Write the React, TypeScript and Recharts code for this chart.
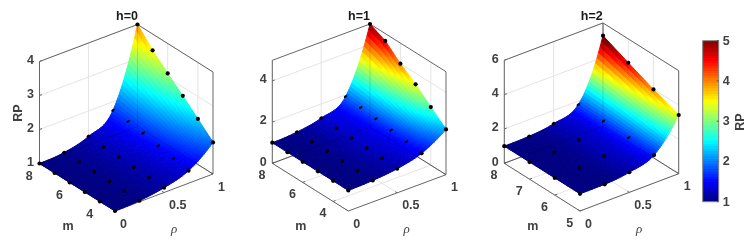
import React from "react";
import { ScatterChart, Scatter, XAxis, YAxis, BarChart, Bar } from "recharts";

const FONT = "'Liberation Sans', Arial, sans-serif";
const TICK_COLOR = "#404040";
const BOX_COLOR = "#666666";
const GRID_COLOR = "#e4e4e4";

const rhoValues = [0, 0.25, 0.5, 0.75, 1];
const rhoTicks = [0, 0.5, 1];
const mValuesH0 = [3, 4, 5, 6, 7, 8];
const mValuesH1 = [3, 4, 5, 6, 7, 8];
const mValuesH2 = [5, 6, 7, 8];
const mTicksH0 = [4, 6, 8];
const mTicksH1 = [4, 6, 8];
const mTicksH2 = [5, 6, 7, 8];
const zTicksH0 = [1, 2, 3, 4];
const zTicksH1 = [0, 2, 4];
const zTicksH2 = [0, 2, 4, 6];
// RP per rho (rows) and m (columns)
const rpH0 = [
  [1, 1, 1, 1, 1, 1],
  [1.03, 1.03, 1.04, 1.04, 1.05, 1.05],
  [1.14, 1.16, 1.18, 1.2, 1.22, 1.25],
  [1.37, 1.45, 1.54, 1.64, 1.7, 1.75],
  [1.93, 2.34, 2.74, 3.12, 3.52, 4.0],
];
const rpH1 = [
  [1, 1, 1, 1, 1, 1],
  [1.04, 1.05, 1.05, 1.06, 1.06, 1.07],
  [1.17, 1.22, 1.25, 1.27, 1.29, 1.31],
  [1.48, 1.58, 1.68, 1.77, 1.85, 1.92],
  [2.2, 2.82, 3.46, 4.0, 4.64, 5.0],
];
const rpH2 = [
  [1, 1, 1, 1],
  [1.01, 1.02, 1.02, 1.03],
  [1.17, 1.19, 1.2, 1.22],
  [1.63, 1.72, 1.76, 1.79],
  [3.42, 3.98, 4.61, 5.26],
];
const colorbarTicks = [1, 2, 3, 4, 5];
const colorbarData = [{ name: "RP", range: [1, 5] }];

const clamp01 = (v: number) => Math.max(0, Math.min(1, v));
const jet = (t: number) => {
  const c = (o: number) => Math.round(255 * clamp01(1.5 - Math.abs(4 * t - o)));
  return `rgb(${c(3)},${c(2)},${c(1)})`;
};
const LEVELS = 64;
const colorOf = (z: number) => jet(clamp01((z - 1) / 4));

type View = {
  title: string;
  titleX: number;
  mLabelX: number;
  rhoLabelX: number;
  left: number;
  width: number;
  ox: number;
  oy: number;
  rx: number;
  ry: number;
  mx: number;
  my: number;
  zs: number;
  zMin: number;
  zMax: number;
  zTicks: number[];
  mValues: number[];
  mTicks: number[];
  rp: number[][];
  zLabel?: boolean;
};

const views: View[] = [
  { title: "h=0", titleX: 127, mLabelX: 68, rhoLabelX: 174, left: 0, width: 250, ox: 115, oy: 211, rx: 98, ry: -37, mx: -75.5, my: -47.5, zs: 34, zMin: 1, zMax: 4, zTicks: zTicksH0, mValues: mValuesH0, mTicks: mTicksH0, rp: rpH0, zLabel: true },
  { title: "h=1", titleX: 359, mLabelX: 300.7, rhoLabelX: 406.7, left: 240, width: 225, ox: 348.3, oy: 211, rx: 97.7, ry: -36.3, mx: -76, my: -47.7, zs: 20.6, zMin: 0, zMax: 5, zTicks: zTicksH1, mValues: mValuesH1, mTicks: mTicksH1, rp: rpH1 },
  { title: "h=2", titleX: 591.7, mLabelX: 532.7, rhoLabelX: 639, left: 470, width: 225, ox: 580, oy: 211, rx: 98.7, ry: -37.3, mx: -75.7, my: -47.7, zs: 17.17, zMin: 0, zMax: 6, zTicks: zTicksH2, mValues: mValuesH2, mTicks: mTicksH2, rp: rpH2 },
];

// screen position in page pixels of a (rho, m, z) location
const px = (v: View, rho: number, m: number, z: number) => {
  const n = (m - v.mValues[0]) / (v.mValues[v.mValues.length - 1] - v.mValues[0]);
  return { X: v.ox + rho * v.rx + n * v.mx, Y: v.oy + rho * v.ry + n * v.my - (z - v.zMin) * v.zs };
};
// the same position in the chart's axis units (x: page px, y: RP along the left box edge)
const pt = (v: View, rho: number, m: number, z: number) => {
  const p = px(v, rho, m, z);
  return { x: p.X, y: v.zMin + (v.oy + v.my - p.Y) / v.zs };
};

// smooth shading of the surface between the read points: cubic along rho, straight along m
const surfaceZ = (v: View, ri: number, f: number, col: number) => {
  const col0 = v.rp.map((row) => row[col]);
  const h = 0.25;
  const d = col0.slice(1).map((z, i) => (z - col0[i]) / h);
  const s: number[] = [0];
  for (let i = 1; i < 4; i++) s[i] = Math.min((d[i - 1] + d[i]) / 2, 3 * Math.min(d[i - 1], d[i]));
  s[4] = 2 * d[3] - s[3];
  if (ri >= 4) return col0[4];
  const a = col0[ri], b = col0[ri + 1];
  const f2 = f * f, f3 = f2 * f;
  return (2 * f3 - 3 * f2 + 1) * a + (f3 - 2 * f2 + f) * h * s[ri] + (-2 * f3 + 3 * f2) * b + (f3 - f2) * h * s[ri + 1];
};

const CellShape = (props: any, v: View) => {
  const { cx, cy, payload } = props;
  const { ri, mi } = payload;
  const nr = ri >= 2 ? 16 : 6;
  const nm = v.mValues.length > 4 ? 8 : 12;
  const anchor = px(v, rhoValues[ri], v.mValues[mi], v.rp[ri][mi]);
  const polys: React.ReactNode[] = [];
  const at = (a: number, b: number) => {
    const zl = surfaceZ(v, ri, a / nr, mi);
    const zr = surfaceZ(v, ri, a / nr, mi + 1);
    const z = zl + ((zr - zl) * b) / nm;
    const rho = rhoValues[ri] + ((rhoValues[ri + 1] - rhoValues[ri]) * a) / nr;
    const m = v.mValues[mi] + ((v.mValues[mi + 1] - v.mValues[mi]) * b) / nm;
    const p = px(v, rho, m, z);
    return { X: cx + p.X - anchor.X, Y: cy + p.Y - anchor.Y, z };
  };
  for (let a = nr - 1; a >= 0; a--) {
    for (let b = nm - 1; b >= 0; b--) {
      const c = [at(a, b), at(a + 1, b), at(a + 1, b + 1), at(a, b + 1)];
      const col = colorOf((c[0].z + c[1].z + c[2].z + c[3].z) / 4);
      polys.push(
        <polygon key={`${a}-${b}`} points={c.map((q) => `${q.X.toFixed(2)},${q.Y.toFixed(2)}`).join(" ")} fill={col} stroke={col} strokeWidth={1} strokeLinejoin="round" />
      );
    }
  }
  return <g>{polys}</g>;
};

const noDot = () => <g />;

function segment(key: string, a: any, b: any, stroke: string, width = 1, opacity = 1) {
  return (
    <Scatter
      key={key}
      data={[a, b]}
      line={{ stroke, strokeWidth: width, strokeOpacity: opacity }}
      shape={noDot}
      isAnimationActive={false}
    />
  );
}

function Panel({ v }: { v: View }) {
  const mMin = v.mValues[0];
  const mMax = v.mValues[v.mValues.length - 1];
  const edge = v.ox + v.mx;
  const yLeft = v.oy + v.my;
  const hi = v.zMin + yLeft / v.zs;
  const lo = v.zMin + (yLeft - 244) / v.zs;

  const under: React.ReactNode[] = [];
  rhoTicks.forEach((r) => {
    under.push(segment(`f-r${r}`, pt(v, r, mMin, v.zMin), pt(v, r, mMax, v.zMin), GRID_COLOR));
    under.push(segment(`w-r${r}`, pt(v, r, mMax, v.zMin), pt(v, r, mMax, v.zMax), GRID_COLOR));
  });
  v.mTicks.forEach((m) => {
    under.push(segment(`f-m${m}`, pt(v, 0, m, v.zMin), pt(v, 1, m, v.zMin), GRID_COLOR));
    under.push(segment(`w-m${m}`, pt(v, 1, m, v.zMin), pt(v, 1, m, v.zMax), GRID_COLOR));
  });
  v.zTicks.forEach((z) => {
    under.push(segment(`z-a${z}`, pt(v, 0, mMax, z), pt(v, 1, mMax, z), GRID_COLOR));
    under.push(segment(`z-b${z}`, pt(v, 1, mMax, z), pt(v, 1, mMin, z), GRID_COLOR));
  });
  const corners = {
    lb: pt(v, 0, mMax, v.zMin),
    lt: pt(v, 0, mMax, v.zMax),
    bb: pt(v, 1, mMax, v.zMin),
    bt: pt(v, 1, mMax, v.zMax),
    rb: pt(v, 1, mMin, v.zMin),
    rt: pt(v, 1, mMin, v.zMax),
    fb: pt(v, 0, mMin, v.zMin),
  };
  const boxLines: [string, any, any][] = [
    ["lv", corners.lb, corners.lt],
    ["tl", corners.lt, corners.bt],
    ["tr", corners.bt, corners.rt],
    ["rv", corners.rb, corners.rt],
    ["fl", corners.lb, corners.fb],
    ["fr", corners.fb, corners.rb],
    ["bl", corners.lb, corners.bb],
    ["br", corners.bb, corners.rb],
    ["bv", corners.bb, corners.bt],
  ];
  boxLines.forEach(([k, a, b]) => under.push(segment(`box-${k}`, a, b, BOX_COLOR)));
  rhoTicks.forEach((r) => {
    under.push(segment(`t-r${r}`, pt(v, r, mMin, v.zMin), pt(v, r, mMin + 0.025 * (mMax - mMin), v.zMin), BOX_COLOR));
  });
  v.mTicks.forEach((m) => {
    under.push(segment(`t-m${m}`, pt(v, 0, m, v.zMin), pt(v, 0.025, m, v.zMin), BOX_COLOR));
  });
  v.zTicks.forEach((z) => {
    under.push(segment(`t-z${z}`, pt(v, 0, mMax, z), pt(v, 0.025, mMax, z), BOX_COLOR));
  });

  const cells: any[] = [];
  for (let ri = 3; ri >= 0; ri--) {
    for (let mi = v.mValues.length - 2; mi >= 0; mi--) {
      cells.push({ ...pt(v, rhoValues[ri], v.mValues[mi], v.rp[ri][mi]), ri, mi });
    }
  }

  const markers: any[] = [];
  v.rp.forEach((row, ri) =>
    row.forEach((z, mi) => {
      const interior = ri > 0 && ri < 4 && mi > 0;
      markers.push({ ...pt(v, rhoValues[ri], v.mValues[mi], z), kind: interior ? (ri === 3 ? 2 : 1) : 0 });
    })
  );

  const mTickPts = v.mTicks.map((m) => ({ ...pt(v, 0, m, v.zMin), label: String(m) }));
  const rhoTickPts = rhoTicks.map((r) => ({ ...pt(v, r, mMin, v.zMin), label: String(r) }));

  return (
    <div style={{ position: "absolute", left: v.left, top: 0, width: v.width, height: 244 }}>
      <ScatterChart width={v.width} height={244} margin={{ top: 0, right: 0, bottom: 0, left: 0 }}>
        <XAxis type="number" dataKey="x" hide domain={[edge, v.left + v.width]} />
        <YAxis
          type="number"
          dataKey="y"
          width={edge - v.left}
          domain={[lo, hi]}
          ticks={v.zTicks}
          interval={0}
          axisLine={false}
          tickLine={false}
          tickSize={0}
          tickMargin={0}
          tick={(p: any) => (
            <text x={p.x - 5.5} y={p.y + 2.3} textAnchor="end" fontFamily={FONT} fontSize={12.5} fontWeight="bold" fill={TICK_COLOR}>
              {p.payload.value}
            </text>
          )}
        />
        {under}
        <Scatter data={cells} shape={(p: any) => CellShape(p, v)} isAnimationActive={false} />
        {segment("over-bl", corners.lb, corners.bb, "#000000", 0.8, 0.22)}
        {segment("over-br", corners.bb, corners.rb, "#000000", 0.8, 0.18)}
        {segment("over-bv", corners.bb, corners.bt, "#000000", 0.8, 0.15)}
        <Scatter
          data={markers}
          isAnimationActive={false}
          shape={(p: any) => {
            const k = p.payload.kind;
            if (k === 0) return <circle cx={p.cx} cy={p.cy} r={2.1} fill="#000" />;
            return (
              <ellipse
                cx={p.cx}
                cy={p.cy}
                rx={2}
                ry={k === 2 ? 1.1 : 1.7}
                transform={`rotate(-35 ${p.cx} ${p.cy})`}
                fill="#000"
              />
            );
          }}
        />
        <Scatter
          data={mTickPts}
          isAnimationActive={false}
          shape={(p: any) => (
            <text x={p.cx - 10.2} y={p.cy + 16} textAnchor="middle" fontFamily={FONT} fontSize={12.5} fontWeight="bold" fill={TICK_COLOR}>
              {p.payload.label}
            </text>
          )}
        />
        <Scatter
          data={rhoTickPts}
          isAnimationActive={false}
          shape={(p: any) => (
            <text x={p.cx + 5} y={p.cy + 16.5} textAnchor="start" fontFamily={FONT} fontSize={12.5} fontWeight="bold" fill={TICK_COLOR}>
              {p.payload.label}
            </text>
          )}
        />
        <text x={v.titleX - v.left} y={20} textAnchor="middle" fontFamily={FONT} fontSize={12.5} fontWeight="bold" fill="#1a1a1a">
          {v.title}
        </text>
        <text x={v.mLabelX - v.left} y={230} textAnchor="middle" fontFamily={FONT} fontSize={12.5} fontWeight="bold" fill={TICK_COLOR}>
          m
        </text>
        <text x={v.rhoLabelX - v.left} y={233} textAnchor="middle" fontFamily="'Liberation Serif', serif" fontStyle="italic" fontSize={13} fill={TICK_COLOR}>
          ρ
        </text>
        {v.zLabel ? (
          <text x={17} y={113} transform="rotate(-90 17 113)" dy={4.5} textAnchor="middle" fontFamily={FONT} fontSize={12.5} fontWeight="bold" fill={TICK_COLOR}>
            RP
          </text>
        ) : null}
      </ScatterChart>
    </div>
  );
}

function Colorbar() {
  const stops: React.ReactNode[] = [];
  for (let i = 0; i < LEVELS; i++) {
    const col = jet((i + 0.5) / LEVELS);
    stops.push(<stop key={`a${i}`} offset={1 - i / LEVELS} stopColor={col} />);
    stops.push(<stop key={`b${i}`} offset={1 - (i + 1) / LEVELS} stopColor={col} />);
  }
  stops.reverse();
  return (
    <div style={{ position: "absolute", left: 690, top: 0, width: 62, height: 244 }}>
      <BarChart
        width={62}
        height={244}
        data={colorbarData}
        margin={{ top: 40.7, right: 0, bottom: 42.3, left: 12.7 }}
        barCategoryGap={0}
      >
        <defs>
          <linearGradient id="jetBar" x1="0" y1="0" x2="0" y2="1">
            {stops}
          </linearGradient>
        </defs>
        <XAxis dataKey="name" hide />
        <YAxis
          orientation="right"
          type="number"
          width={33.3}
          domain={[1, 5]}
          ticks={colorbarTicks}
          interval={0}
          axisLine={false}
          tickLine={false}
          tickSize={0}
          tickMargin={0}
          tick={(p: any) => (
            <g>
              <line x1={p.x - 2} x2={p.x} y1={p.y} y2={p.y} stroke="#555" />
              <text x={p.x + 4} y={p.y + 4} textAnchor="start" fontFamily={FONT} fontSize={12.5} fontWeight="bold" fill={TICK_COLOR}>
                {p.payload.value}
              </text>
            </g>
          )}
        />
        <Bar dataKey="range" fill="url(#jetBar)" stroke="#808080" strokeWidth={1} isAnimationActive={false} />
        <text x={49.5} y={122} transform="rotate(-90 49.5 122)" dy={4.5} textAnchor="middle" fontFamily={FONT} fontSize={12.5} fontWeight="bold" fill={TICK_COLOR}>
          RP
        </text>
      </BarChart>
    </div>
  );
}

export default function App() {
  return (
    <div style={{ position: "absolute", left: 0, top: 0, width: 752, height: 244, overflow: "hidden", background: "#fff", filter: "blur(0.3px)" }}>
      {views.map((v) => (
        <Panel key={v.title} v={v} />
      ))}
      <Colorbar />
    </div>
  );
}
